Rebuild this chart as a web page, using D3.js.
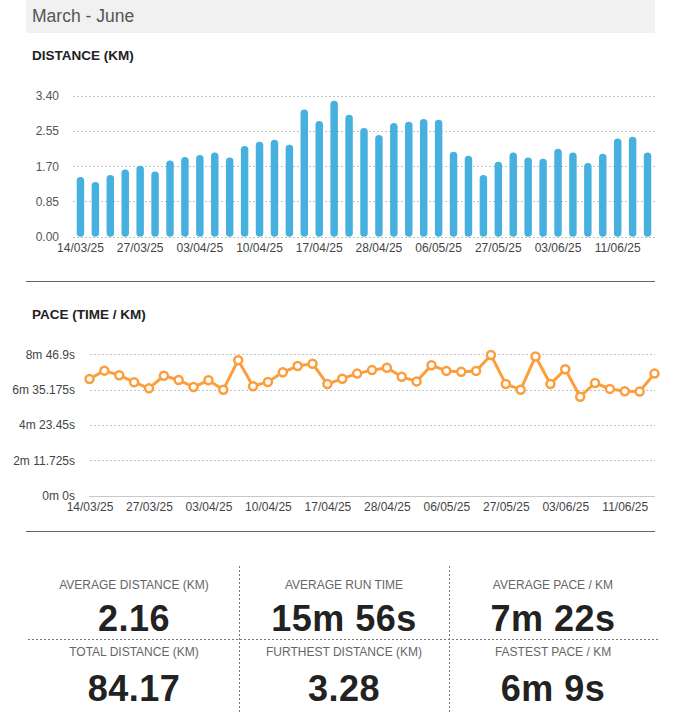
<!DOCTYPE html>
<html>
<head>
<meta charset="utf-8">
<script src="https://cdn.jsdelivr.net/npm/d3@7"></script>
<style>
  body { margin: 0; background: #fff; }
  svg text { font-family: "Liberation Sans", Arial, sans-serif; }
</style>
</head>
<body>
<div id="chart"></div>
<script>
// run dates (in-between dates estimated, only every 4th is shown on the axis)
var runDates = ["14/03/25", "17/03/25", "20/03/25", "24/03/25", "27/03/25", "29/03/25", "31/03/25", "01/04/25",
  "03/04/25", "05/04/25", "06/04/25", "08/04/25", "10/04/25", "12/04/25", "13/04/25", "15/04/25",
  "17/04/25", "19/04/25", "22/04/25", "25/04/25", "28/04/25", "30/04/25", "02/05/25", "04/05/25",
  "06/05/25", "11/05/25", "16/05/25", "22/05/25", "27/05/25", "29/05/25", "31/05/25", "01/06/25",
  "03/06/25", "05/06/25", "07/06/25", "09/06/25", "11/06/25", "13/06/25", "15/06/25"];

var tickLabels = ["14/03/25", "27/03/25", "03/04/25", "10/04/25", "17/04/25",
  "28/04/25", "06/05/25", "27/05/25", "03/06/25", "11/06/25"];

// km per run
var distances = [1.44, 1.32, 1.49, 1.62, 1.71, 1.57, 1.84, 1.92, 1.97, 2.03,
  1.91, 2.19, 2.29, 2.34, 2.22, 3.07, 2.79, 3.28, 2.94, 2.62,
  2.45, 2.74, 2.77, 2.84, 2.82, 2.05, 1.95, 1.49, 1.81, 2.03,
  1.91, 1.88, 2.12, 2.03, 1.78, 2.00, 2.37, 2.41, 2.03];

// pace, seconds per km
var paces = [435, 466, 449, 423, 400, 447, 431, 405, 430, 395,
  505, 408, 424, 460, 483, 492, 416, 436, 455, 468,
  477, 443, 426, 486, 465, 462, 465, 524, 416, 395,
  519, 416, 471, 369, 420, 398, 389, 388, 455];

var distTicks = [0, 0.85, 1.70, 2.55, 3.40];
var paceTicks = [0, 131.725, 263.45, 395.175, 526.9];

var statLabels = ["AVERAGE DISTANCE (KM)", "AVERAGE RUN TIME", "AVERAGE PACE / KM",
  "TOTAL DISTANCE (KM)", "FURTHEST DISTANCE (KM)", "FASTEST PACE / KM"];
var statValues = ["2.16", "15m 56s", "7m 22s", "84.17", "3.28", "6m 9s"];

var barColor = "#46b0de";
var lineColor = "#fb9e3e";

var svg = d3.select("#chart")
  .append("svg")
  .attr("width", 693)
  .attr("height", 728);

// header
svg.append("rect")
  .attr("x", 26).attr("y", 0)
  .attr("width", 629).attr("height", 33)
  .attr("fill", "#f1f1f1");

svg.append("text")
  .attr("x", 32).attr("y", 22)
  .style("font-size", "17.5px")
  .attr("fill", "#555")
  .text("March - June");

function sectionTitle(y, label) {
  svg.append("text")
    .attr("x", 32).attr("y", y)
    .style("font-size", "13.5px")
    .attr("font-weight", "bold")
    .attr("fill", "#222")
    .text(label);
}

function separator(y) {
  svg.append("line")
    .attr("x1", 26).attr("x2", 655)
    .attr("y1", y + 0.5).attr("y2", y + 0.5)
    .attr("stroke", "#666");
}

function styleAxis(g, tickLabelColor) {
  g.attr("font-size", null).attr("font-family", null);
  g.select(".domain").remove();
  g.selectAll(".tick line").remove();
  g.selectAll(".tick text")
    .style("font-size", "12px")
    .style("font-family", "'Liberation Sans', Arial, sans-serif")
    .attr("fill", tickLabelColor);
}

// ---------- distance chart ----------
sectionTitle(60, "DISTANCE (KM)");

var xBand = d3.scaleBand()
  .domain(runDates)
  .range([73, 655])
  .paddingInner(0.5)
  .paddingOuter(0.25);

var yDist = d3.scaleLinear()
  .domain([0, 3.4])
  .range([236.7, 95.7]);

svg.append("g")
  .selectAll("line")
  .data(distTicks)
  .enter()
  .append("line")
  .attr("x1", 73).attr("x2", 655)
  .attr("y1", d => Math.round(yDist(d)) + 0.5)
  .attr("y2", d => Math.round(yDist(d)) + 0.5)
  .attr("stroke", "#c4c4c4")
  .attr("stroke-dasharray", "2,2");

var distAxis = svg.append("g")
  .attr("transform", "translate(62,0)")
  .call(d3.axisLeft(yDist).tickValues(distTicks).tickFormat(d3.format(".2f")).tickSize(0).tickPadding(3));
styleAxis(distAxis, "#555");

svg.append("g")
  .selectAll("rect")
  .data(distances)
  .enter()
  .append("rect")
  .attr("x", (d, i) => xBand(runDates[i]))
  .attr("y", d => yDist(d))
  .attr("width", xBand.bandwidth())
  .attr("height", d => yDist(0) - yDist(d))
  .attr("rx", xBand.bandwidth() / 2)
  .attr("fill", barColor);

var distX = svg.append("g")
  .attr("transform", "translate(0,241)")
  .call(d3.axisBottom(xBand).tickValues(tickLabels).tickSize(0).tickPadding(2));
styleAxis(distX, "#444");

separator(281);

// ---------- pace chart ----------
sectionTitle(319, "PACE (TIME / KM)");

var xPoint = d3.scalePoint()
  .domain(runDates)
  .range([89.5, 654.5])
  .padding(0);

var yPace = d3.scaleLinear()
  .domain([0, 526.9])
  .range([495.7, 354.3]);

function paceFormat(v) {
  var m = Math.floor(v / 60);
  var s = +(v - m * 60).toFixed(3);
  return m + "m " + s + "s";
}

svg.append("g")
  .selectAll("line")
  .data(paceTicks.slice(1))
  .enter()
  .append("line")
  .attr("x1", 90).attr("x2", 655)
  .attr("y1", d => Math.round(yPace(d)) + 0.5)
  .attr("y2", d => Math.round(yPace(d)) + 0.5)
  .attr("stroke", "#c4c4c4")
  .attr("stroke-dasharray", "2,2");

svg.append("line")
  .attr("x1", 89).attr("x2", 655)
  .attr("y1", Math.round(yPace(0)) + 0.5)
  .attr("y2", Math.round(yPace(0)) + 0.5)
  .attr("stroke", "#c8c8c8");

var paceAxis = svg.append("g")
  .attr("transform", "translate(78,0)")
  .call(d3.axisLeft(yPace).tickValues(paceTicks).tickFormat(paceFormat).tickSize(0).tickPadding(3));
styleAxis(paceAxis, "#444");

var line = d3.line()
  .x((d, i) => xPoint(runDates[i]))
  .y(d => yPace(d));

svg.append("path")
  .datum(paces)
  .attr("d", line)
  .attr("fill", "none")
  .attr("stroke", lineColor)
  .attr("stroke-width", 3)
  .attr("stroke-linejoin", "round");

svg.append("g")
  .selectAll("circle")
  .data(paces)
  .enter()
  .append("circle")
  .attr("cx", (d, i) => xPoint(runDates[i]))
  .attr("cy", d => yPace(d))
  .attr("r", 4)
  .attr("fill", "#fff")
  .attr("stroke", lineColor)
  .attr("stroke-width", 2.5);

var paceX = svg.append("g")
  .attr("transform", "translate(0,500)")
  .call(d3.axisBottom(xPoint).tickValues(tickLabels).tickSize(0).tickPadding(2));
styleAxis(paceX, "#444");

separator(531);

// ---------- stats ----------
var colCenters = [134, 344, 553];
var rowLabelY = [589, 656];
var rowValueY = [631, 701];

[239.5, 449.5].forEach(function(x) {
  svg.append("line")
    .attr("x1", x).attr("x2", x)
    .attr("y1", 566).attr("y2", 712)
    .attr("stroke", "#777")
    .attr("stroke-dasharray", "2,2");
});

svg.append("line")
  .attr("x1", 28).attr("x2", 658)
  .attr("y1", 639.5).attr("y2", 639.5)
  .attr("stroke", "#777")
  .attr("stroke-dasharray", "2,2");

svg.append("g")
  .selectAll("text")
  .data(statLabels)
  .enter()
  .append("text")
  .attr("x", (d, i) => colCenters[i % 3])
  .attr("y", (d, i) => rowLabelY[Math.floor(i / 3)])
  .attr("text-anchor", "middle")
  .style("font-size", "12px")
  .attr("fill", "#666")
  .text(d => d);

svg.append("g")
  .selectAll("text")
  .data(statValues)
  .enter()
  .append("text")
  .attr("x", (d, i) => colCenters[i % 3])
  .attr("y", (d, i) => rowValueY[Math.floor(i / 3)])
  .attr("text-anchor", "middle")
  .style("font-size", "36px")
  .attr("font-weight", "bold")
  .attr("letter-spacing", "0.5px")
  .attr("fill", "#222")
  .text(d => d);
</script>
</body>
</html>
